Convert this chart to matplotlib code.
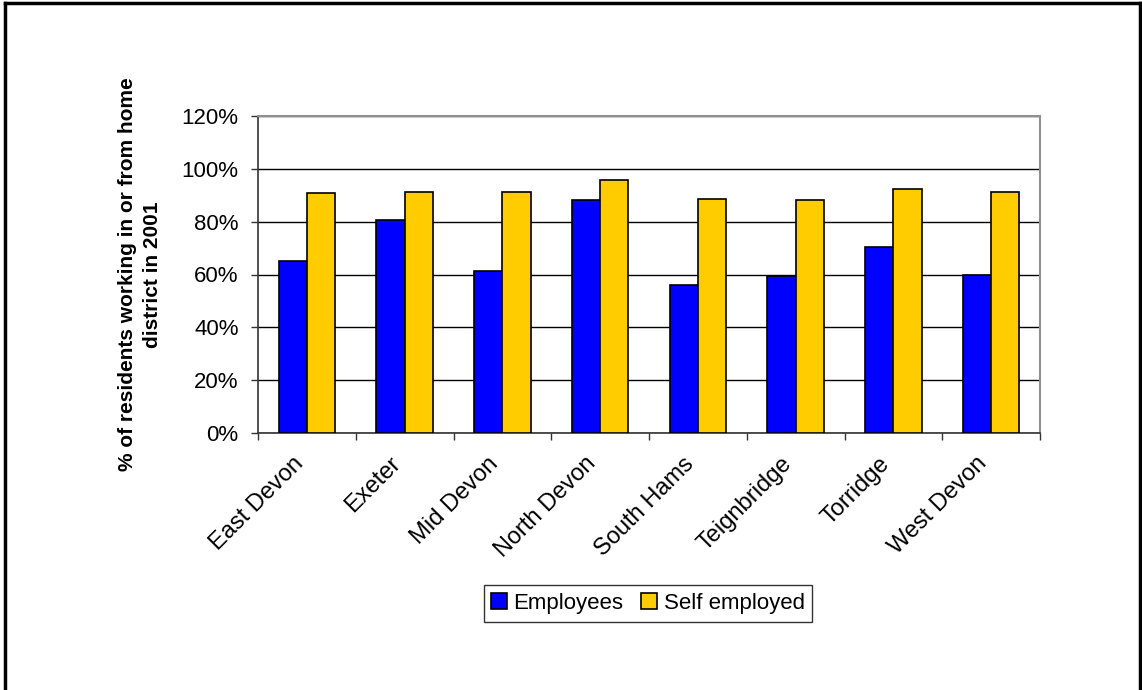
import matplotlib
matplotlib.use("Agg")
import matplotlib.pyplot as plt
import matplotlib.transforms as mtransforms
import numpy as np
from matplotlib.ticker import FuncFormatter, FixedLocator
from matplotlib.lines import Line2D

plt.rcParams['font.family'] = ['Liberation Sans', 'DejaVu Sans']

districts = ["East Devon", "Exeter", "Mid Devon", "North Devon",
             "South Hams", "Teignbridge", "Torridge", "West Devon"]
employees = [65.2, 80.7, 61.3, 88.1, 56.2, 59.5, 70.5, 60.0]
self_employed = [90.7, 91.2, 91.2, 95.6, 88.7, 88.1, 92.4, 91.2]
y_ticks = [0, 20, 40, 60, 80, 100, 120]

fig = plt.figure(figsize=(11.42, 6.90), dpi=100)
ax = fig.add_axes([258 / 1142, 1 - 433 / 690, 782 / 1142, 317 / 690])

x = np.arange(len(districts))
w = 0.29
ax.bar(x - w / 2, employees, w, color="#0000FF", edgecolor="black",
       linewidth=1.2, label="Employees", zorder=3)
ax.bar(x + w / 2, self_employed, w, color="#FFCC00", edgecolor="black",
       linewidth=1.2, label="Self employed", zorder=3)

ax.set_xlim(-0.5, len(districts) - 0.5)
ax.set_ylim(0, 120)
ax.set_yticks(y_ticks)
ax.yaxis.set_major_formatter(FuncFormatter(lambda v, p: f"{v:.0f}%"))
ax.yaxis.grid(True, color="black", linewidth=1.0, zorder=0)
ax.set_axisbelow(True)

# category labels at centres, ticks on the boundaries
ax.set_xticks(x)
ax.set_xticklabels(districts, rotation=45, ha="right", va="top",
                   rotation_mode="anchor", fontsize=17)
ax.tick_params(axis="x", which="major", length=0, pad=12)
shift = mtransforms.ScaledTranslation(-15 / 100, -3 / 100, fig.dpi_scale_trans)
for lbl in ax.get_xticklabels():
    lbl.set_transform(lbl.get_transform() + shift)
ax.xaxis.set_minor_locator(FixedLocator(np.arange(-0.5, len(districts) + 0.5, 1)))
ax.tick_params(axis="x", which="minor", length=5, width=1, color="#333333",
               direction="out")
ax.tick_params(axis="y", length=5, width=1, color="#333333", labelsize=16, pad=9)

for side in ("top", "right"):
    ax.spines[side].set_color("#909090")
    ax.spines[side].set_linewidth(1.5)
for side in ("left", "bottom"):
    ax.spines[side].set_color("#333333")
    ax.spines[side].set_linewidth(1.2)

ax.set_ylabel("% of residents working in or from home\ndistrict in 2001",
              fontsize=15, fontweight="bold", linespacing=1.45,
              va="center", ha="center")
ax.yaxis.set_label_coords((140 - 258) / 782, 0.5)

leg = ax.legend(loc="center", bbox_to_anchor=(648 / 1142, 1 - 603.5 / 690),
                bbox_transform=fig.transFigure, ncol=2, fontsize=16,
                frameon=True, fancybox=False, edgecolor="black",
                handlelength=0.7, handleheight=0.7, handletextpad=0.3,
                columnspacing=0.8, borderpad=0.35)
leg.get_frame().set_linewidth(1.0)

# outer frame of the figure
frame_kw = dict(color="black", linewidth=2.5, transform=fig.transFigure)
fig.add_artist(Line2D([5 / 1142, 5 / 1142], [0, 1 - 3 / 690], **frame_kw))
fig.add_artist(Line2D([5 / 1142, 1140 / 1142], [1 - 3 / 690, 1 - 3 / 690], **frame_kw))
fig.add_artist(Line2D([1140 / 1142, 1140 / 1142], [0, 1 - 3 / 690], **frame_kw))

fig.savefig("out.png", dpi=100)
